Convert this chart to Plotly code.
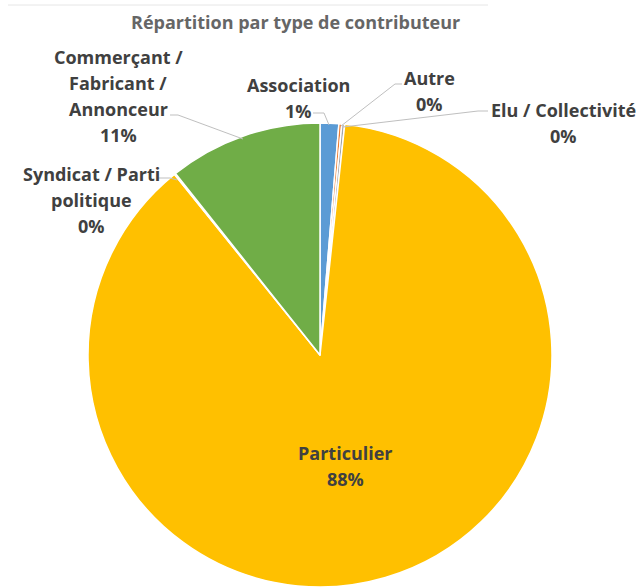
import plotly.graph_objects as go

W, H = 637, 587

categories = ["Association", "Autre", "Elu / Collectivité", "Particulier",
              "Syndicat / Parti politique", "Commerçant / Fabricant / Annonceur"]
values = [1.3, 0.2, 0.2, 87.5, 0.1, 10.7]
pct_labels = ["1%", "0%", "0%", "88%", "0%", "11%"]
label_lines = [["Association"], ["Autre"], ["Elu / Collectivité"], ["Particulier"],
               ["Syndicat / Parti", "politique"], ["Commerçant /", "Fabricant /", "Annonceur"]]
colors = ["#5B9BD5", "#ED7D31", "#A5A5A5", "#FFC000", "#4472C4", "#70AD47"]
title = "Répartition par type de contributeur"

# label placement (pixel centre x, first line y) and leader line paths (pixels)
label_pos = [(298, 85), (429, 78), (563, 110), (345, 453), (91, 174), (118, 57)]
leaders = [
    [(313, 113), (324, 113), (329, 125)],
    [(402, 84), (395, 84), (341, 126)],
    [(488, 111), (478, 111), (343, 127)],
    None,
    [(158, 178), (170, 178), (177, 180)],
    [(170, 115), (178, 115), (243, 139)],
]
LINE_H = 26
FONT = "Open Sans"

def px(x):
    return x / W

def py(y):
    return 1 - y / H

fig = go.Figure(go.Pie(
    labels=categories, values=values, sort=False, direction="clockwise", rotation=0,
    marker=dict(colors=colors, line=dict(color="white", width=1.5)),
    textinfo="none", hoverinfo="label+percent", showlegend=False,
    domain=dict(x=[px(87), px(553)], y=[0, py(123)]),
))

annotations = [dict(text=title, x=px(295), y=py(22), xref="paper", yref="paper",
                    showarrow=False, xanchor="center", yanchor="middle",
                    font=dict(family=FONT, size=18, color="#666666", weight="bold"))]
for lines, pct, (cx, y0) in zip(label_lines, pct_labels, label_pos):
    for i, t in enumerate(lines + [pct]):
        annotations.append(dict(text=t, x=px(cx), y=py(y0 + i * LINE_H), xref="paper", yref="paper",
                                showarrow=False, xanchor="center", yanchor="middle",
                                font=dict(family=FONT, size=18, color="#404040", weight="bold")))

shapes = [dict(type="line", xref="paper", yref="paper", x0=px(8), x1=px(488), y0=py(5), y1=py(5),
               line=dict(color="#E6E6E6", width=1))]
for pts in leaders:
    if pts is None:
        continue
    path = "M " + " L ".join(f"{px(x)},{py(y)}" for x, y in pts)
    shapes.append(dict(type="path", xref="paper", yref="paper", path=path,
                       line=dict(color="#BFBFBF", width=1)))

fig.update_layout(width=W, height=H, margin=dict(l=0, r=0, t=0, b=0),
                  paper_bgcolor="white", plot_bgcolor="white",
                  annotations=annotations, shapes=shapes)
fig.write_html("out.html", config={"displayModeBar": False},
               post_script="document.body.style.margin='0';document.body.style.overflow='hidden';")
